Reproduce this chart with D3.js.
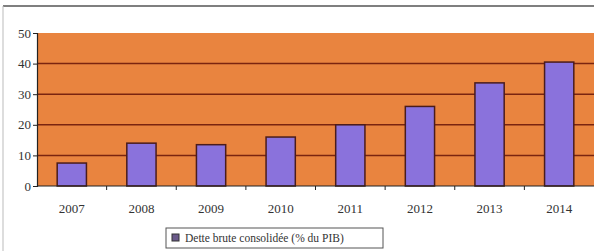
<!DOCTYPE html>
<html>
<head>
<meta charset="utf-8">
<script src="https://cdn.jsdelivr.net/npm/d3@7"></script>
<style>
  body { margin: 0; background: #fff; }
</style>
</head>
<body>
<div id="chart"></div>
<script>
// data
var years = ["2007", "2008", "2009", "2010", "2011", "2012", "2013", "2014"];
var dette = [7.5, 14, 13.5, 16, 20, 26, 33.7, 40.5];
var yTicks = [0, 10, 20, 30, 40, 50];
var legendLabel = "Dette brute consolidée (% du PIB)";

var serif = "Liberation Serif";
var W = 594, H = 251;
var plotLeft = 37, plotRight = 594, plotTop = 33, plotBottom = 186;

var svg = d3.select("#chart").append("svg")
    .attr("width", W)
    .attr("height", H)
    .attr("font-family", serif);

// outer frame (top and left edges visible)
svg.append("line")
    .attr("x1", 3).attr("x2", W).attr("y1", 6).attr("y2", 6)
    .style("stroke", "#555").style("stroke-width", 1.5);
svg.append("line")
    .attr("x1", 3).attr("x2", 3).attr("y1", 6).attr("y2", H)
    .style("stroke", "#bbb").style("stroke-width", 1);

var x = d3.scaleBand()
    .domain(years)
    .range([plotLeft, plotRight])
    .paddingInner(0.58)
    .paddingOuter(0.29);

var y = d3.scaleLinear()
    .domain([0, 50])
    .range([plotBottom, plotTop]);

// plot background
svg.append("rect")
    .attr("x", plotLeft)
    .attr("y", plotTop)
    .attr("width", plotRight - plotLeft)
    .attr("height", plotBottom - plotTop)
    .style("fill", "#e9843f");

// gridlines
svg.selectAll(".grid")
    .data(yTicks.filter(function(d) { return d > 0 && d < 50; }))
  .enter().append("line")
    .attr("class", "grid")
    .attr("x1", plotLeft)
    .attr("x2", plotRight)
    .attr("y1", function(d) { return y(d); })
    .attr("y2", function(d) { return y(d); })
    .style("stroke", "#7a2410")
    .style("stroke-width", 1.5);

// bars
svg.selectAll(".bar")
    .data(dette)
  .enter().append("rect")
    .attr("class", "bar")
    .attr("x", function(d, i) { return x(years[i]); })
    .attr("y", function(d) { return y(d); })
    .attr("width", x.bandwidth())
    .attr("height", function(d) { return plotBottom - y(d); })
    .style("fill", "#8a72dc")
    .style("stroke", "#4a1c1c")
    .style("stroke-width", 1.5);

// y axis
var yAxis = svg.append("g")
    .attr("transform", "translate(" + plotLeft + ",0)")
    .call(d3.axisLeft(y).tickValues(yTicks).tickSize(4).tickPadding(2))
    .attr("font-family", serif)
    .attr("font-size", 13);
yAxis.select(".domain").style("stroke", "#222").style("stroke-width", 1.2);
yAxis.selectAll(".tick line").style("stroke", "#222");
yAxis.selectAll("text").attr("fill", "#333");

// x axis: ticks between categories
var step = x.step();
var xTickPos = d3.range(1, years.length).map(function(i) { return plotLeft + i * step; });
var xAxis = svg.append("g")
    .attr("transform", "translate(0," + plotBottom + ")");
xAxis.append("line")
    .attr("x1", plotLeft).attr("x2", plotRight)
    .style("stroke", "#222").style("stroke-width", 1.2);
xAxis.selectAll(".xt")
    .data(xTickPos)
  .enter().append("line")
    .attr("class", "xt")
    .attr("x1", function(d) { return d; })
    .attr("x2", function(d) { return d; })
    .attr("y1", 0).attr("y2", 4)
    .style("stroke", "#222");
xAxis.selectAll(".xl")
    .data(years)
  .enter().append("text")
    .attr("class", "xl")
    .attr("x", function(d) { return x(d) + x.bandwidth() / 2; })
    .attr("y", 27)
    .attr("text-anchor", "middle")
    .attr("font-size", 13)
    .attr("fill", "#333")
    .text(function(d) { return d; });

// legend
var lg = svg.append("g").attr("transform", "translate(166,228)");
lg.append("rect")
    .attr("width", 217).attr("height", 20)
    .style("fill", "#fff").style("stroke", "#555").style("stroke-width", 1);
lg.append("rect")
    .attr("x", 6).attr("y", 6).attr("width", 7).attr("height", 7)
    .style("fill", "#6a5a8a").style("stroke", "#333");
lg.append("text")
    .attr("x", 19).attr("y", 14)
    .attr("font-size", 11.5)
    .attr("fill", "#333")
    .text(legendLabel);
</script>
</body>
</html>
